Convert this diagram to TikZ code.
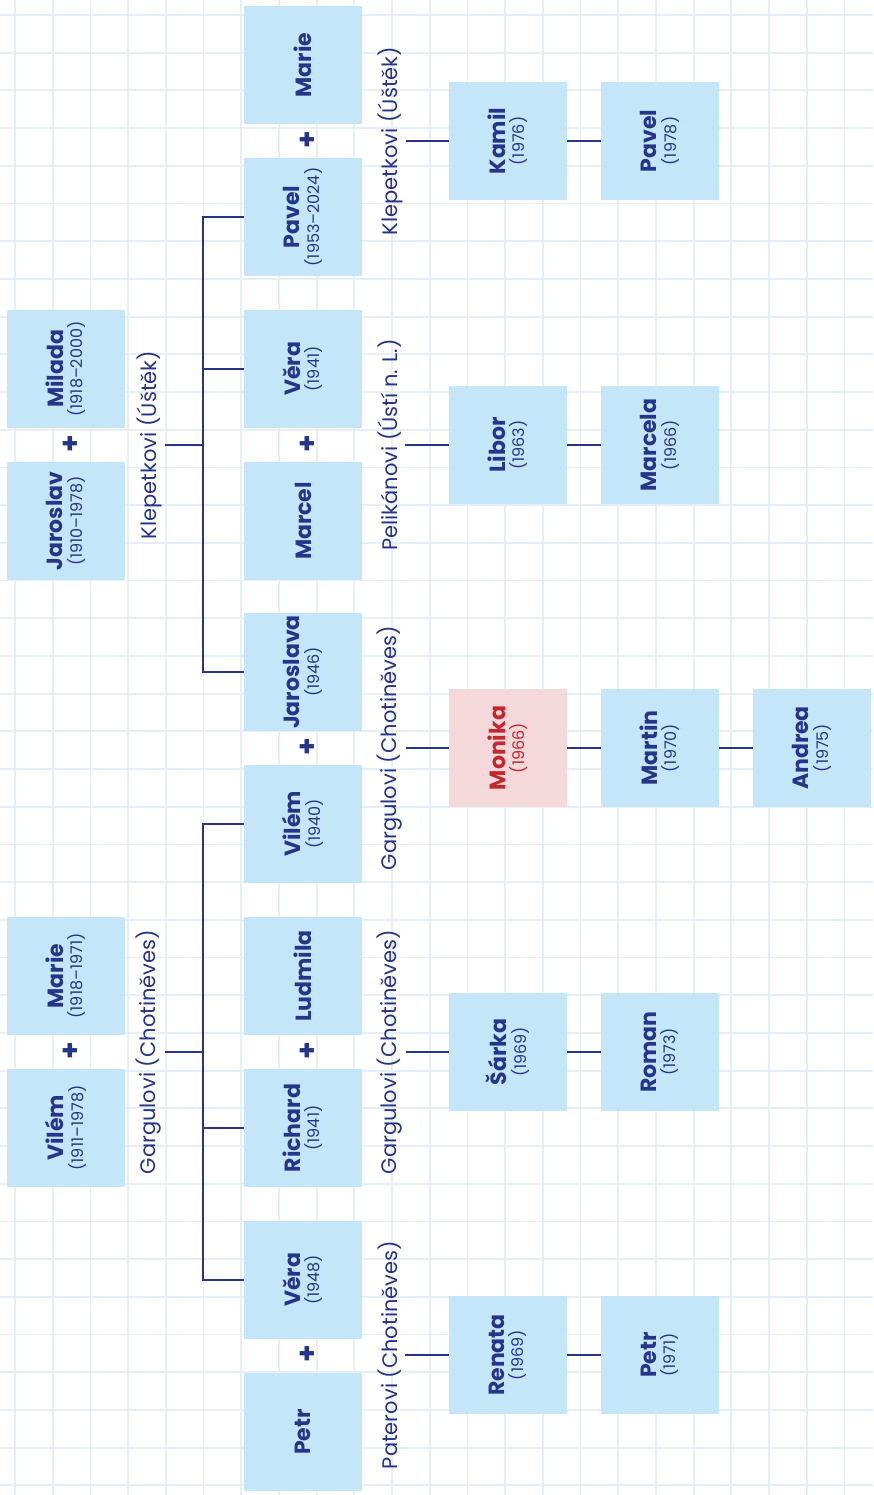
\documentclass[tikz,border=0pt]{standalone}
\usepackage{fontspec}
\setmainfont{Poppins}
\usepackage{xcolor}
\usepackage{graphicx}
\usepackage{tikz}
\definecolor{treeNavy}{HTML}{26348A}
\definecolor{treeBox}{HTML}{C5E5F8}
\definecolor{treePink}{HTML}{F4D8DA}
\definecolor{treeRed}{HTML}{C4262E}
\definecolor{treeGrid}{HTML}{E6EEF8}
\newcommand{\pers}[2]{\rotatebox{90}{\begin{tabular}{@{}c@{}}{\fontsize{22}{24}\selectfont\bfseries #1}\\[1pt]{\fontsize{16}{18}\selectfont #2}\end{tabular}}}
\newcommand{\solo}[1]{\rotatebox{90}{\fontsize{22}{24}\selectfont\bfseries #1}}
\newcommand{\household}[1]{\rotatebox{90}{\fontsize{21}{24}\selectfont #1}}
\tikzset{
  plus/.style={font=\bfseries\fontsize{28}{28}\selectfont, text=treeNavy, inner sep=0pt},
  famlbl/.style={text=treeNavy, inner sep=3pt},
}

\begin{document}
\begin{tikzpicture}[x=1pt, y=-1pt,
  person/.style={fill=treeBox, minimum size=118pt, inner sep=0pt, text=treeNavy},
  me/.style={person, fill=treePink, text=treeRed},
  link/.style={draw=treeNavy, line width=1.6pt}]
  \useasboundingbox[fill=white] (0,0) rectangle (873,1495);
  % squared paper
  \foreach \i in {0,...,22}
    \draw[treeGrid, line width=1.8pt] (15+37.7*\i,0) -- (15+37.7*\i,1495);
  \foreach \i in {0,...,39}
    \draw[treeGrid, line width=1.8pt] (0,15+37.7*\i) -- (873,15+37.7*\i);

  % grandparents
  \node[person] (milada)   at (66,369)  {\pers{Milada}{(1918–2000)}};
  \node[person] (jaroslav) at (66,521)  {\pers{Jaroslav}{(1910–1978)}};
  \node[person] (marieS)   at (66,976)  {\pers{Marie}{(1918–1971)}};
  \node[person] (vilemS)   at (66,1128) {\pers{Vilém}{(1911–1978)}};
  \node[plus] (plusK) at (70,445)  {+};
  \node[plus] (plusG) at (70,1052) {+};
  \node[famlbl] (klepA) at (149,445)  {\household{Klepetkovi (Úštěk)}};
  \node[famlbl] (gargA) at (149,1052) {\household{Gargulovi (Chotiněves)}};

  % children and their partners
  \node[person] (marieK)    at (303,65)   {\solo{Marie}};
  \node[person] (pavelK)    at (303,217)  {\pers{Pavel}{(1953–2024)}};
  \node[person] (veraP)     at (303,369)  {\pers{Věra}{(1941)}};
  \node[person] (marcel)    at (303,521)  {\solo{Marcel}};
  \node[person] (jaroslava) at (303,672)  {\pers{Jaroslava}{(1946)}};
  \node[person] (vilemG)    at (303,824)  {\pers{Vilém}{(1940)}};
  \node[person] (ludmila)   at (303,976)  {\solo{Ludmila}};
  \node[person] (richard)   at (303,1128) {\pers{Richard}{(1941)}};
  \node[person] (veraG)     at (303,1280) {\pers{Věra}{(1948)}};
  \node[person] (petrP)     at (303,1432) {\solo{Petr}};
  \node[plus] (plusA) at (307,141)  {+};
  \node[plus] (plusB) at (307,445)  {+};
  \node[plus] (plusC) at (307,748)  {+};
  \node[plus] (plusD) at (307,1052) {+};
  \node[plus] (plusE) at (307,1355) {+};
  \node[famlbl] (klepB) at (390,141)  {\household{Klepetkovi (Úštěk)}};
  \node[famlbl] (pelik) at (390,445)  {\household{Pelikánovi (Ústí n. L.)}};
  \node[famlbl] (gargB) at (390,748)  {\household{Gargulovi (Chotiněves)}};
  \node[famlbl] (gargC) at (390,1052) {\household{Gargulovi (Chotiněves)}};
  \node[famlbl] (pater) at (390,1355) {\household{Paterovi (Chotiněves)}};

  % grandchildren
  \node[person] (kamil)   at (508,141)  {\pers{Kamil}{(1976)}};
  \node[person] (pavelJ)  at (660,141)  {\pers{Pavel}{(1978)}};
  \node[person] (libor)   at (508,445)  {\pers{Libor}{(1963)}};
  \node[person] (marcela) at (660,445)  {\pers{Marcela}{(1966)}};
  \node[me]     (monika)  at (508,748)  {\pers{Monika}{(1966)}};
  \node[person] (martin)  at (660,748)  {\pers{Martin}{(1970)}};
  \node[person] (andrea)  at (812,748)  {\pers{Andrea}{(1975)}};
  \node[person] (sarka)   at (508,1052) {\pers{Šárka}{(1969)}};
  \node[person] (roman)   at (660,1052) {\pers{Roman}{(1973)}};
  \node[person] (renata)  at (508,1355) {\pers{Renata}{(1969)}};
  \node[person] (petrR)   at (660,1355) {\pers{Petr}{(1971)}};

  % family lines
  \coordinate (trunkK) at (203,445);
  \coordinate (trunkG) at (203,1052);
  \draw[link] (klepA.east) -- (trunkK);
  \draw[link] (pavelK.west) -| (trunkK) |- (jaroslava.west);
  \draw[link] (veraP.west) -- (veraP.west -| trunkK);
  \draw[link] (gargA.east) -- (trunkG);
  \draw[link] (vilemG.west) -| (trunkG) |- (veraG.west);
  \draw[link] (richard.west) -- (richard.west -| trunkG);
  \draw[link] (klepB.east) -- (kamil.west);
  \draw[link] (pelik.east) -- (libor.west);
  \draw[link] (gargB.east) -- (monika.west);
  \draw[link] (gargC.east) -- (sarka.west);
  \draw[link] (pater.east) -- (renata.west);
  \draw[link] (kamil) -- (pavelJ);
  \draw[link] (libor) -- (marcela);
  \draw[link] (monika) -- (martin);
  \draw[link] (martin) -- (andrea);
  \draw[link] (sarka) -- (roman);
  \draw[link] (renata) -- (petrR);
\end{tikzpicture}
\end{document}
